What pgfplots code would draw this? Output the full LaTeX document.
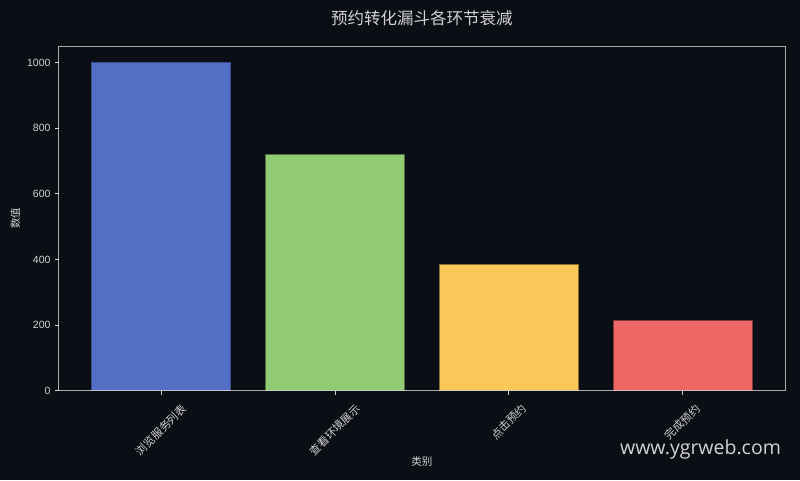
\documentclass[border=0pt]{standalone}
\usepackage{pgfplots}
\pgfplotsset{compat=1.18}
\usepackage{fontspec}
\setmainfont{Liberation Sans}
\newfontfamily\cjk{Noto Sans CJK SC}
\newfontfamily\wmfont{Open Sans}

\definecolor{bg}{HTML}{0B0E14}
\definecolor{txt}{HTML}{D2D2D2}
\definecolor{cA}{HTML}{5470C6}
\definecolor{cB}{HTML}{91CC75}
\definecolor{cC}{HTML}{FAC858}
\definecolor{cD}{HTML}{EE6666}

\newcommand{\xl}[1]{\rotatebox{45}{\cjk\fontsize{11}{12}\selectfont #1}}

\begin{document}
\begin{tikzpicture}[x=1pt,y=1pt]
\fill[bg] (0,0) rectangle (800,480);
\begin{axis}[
    at={(58.7pt,89.3pt)}, anchor=south west,
    scale only axis,
    width=726.3pt, height=344.7pt,
    xmin=-0.59, xmax=3.59,
    ymin=0, ymax=1050,
    ybar, bar width=0.8, bar shift=0pt,
    axis on top,
    xtick={0,1,2,3},
    xticklabels={\xl{浏览服务列表},\xl{查看环境展示},\xl{点击预约},\xl{完成预约}},
    ytick={0,200,400,600,800,1000},
    xtick pos=left, ytick pos=left,
    tick align=outside,
    major tick length=4pt,
    tick style={draw=txt, line width=0.8pt},
    axis line style={draw=white, draw opacity=0.65, line width=0.8pt},
    /pgf/number format/assume math mode=true,
    /pgf/number format/1000 sep={},
    yticklabel style={font=\fontsize{10.5}{12}\selectfont, text=txt, inner sep=0pt, anchor=east, xshift=-4pt},
    xticklabel style={text=txt, inner sep=0pt, anchor=north, yshift=-8pt},
    title={\cjk\fontsize{16.5}{18}\selectfont 预约转化漏斗各环节衰减},
    title style={text=txt, at={(axis description cs:0.5,1.0638)}, anchor=center, inner sep=0pt},
    xlabel={\cjk\fontsize{10.5}{12}\selectfont 类别},
    xlabel style={text=txt, at={(axis description cs:0.5,-0.2069)}, anchor=center, inner sep=0pt},
    ylabel={\cjk\fontsize{10.5}{12}\selectfont 数值},
    ylabel style={text=txt, at={(axis description cs:-0.0595,0.5)}, anchor=center, rotate=0, inner sep=0pt},
]
\addplot[fill=cA, draw=cA!70!black, line width=0.5pt] coordinates {(0,1000)};
\addplot[fill=cB, draw=cB!55!black, line width=0.5pt] coordinates {(1,720)};
\addplot[fill=cC, draw=cC!55!black, line width=0.5pt] coordinates {(2,385)};
\addplot[fill=cD, draw=cD!55!black, line width=0.5pt] coordinates {(3,215)};
\end{axis}
\node[anchor=base, text=txt, inner sep=0pt, font=\wmfont\fontsize{19.5}{22}\selectfont] at (700.5,26) {www.ygrweb.com};
\end{tikzpicture}
\end{document}
